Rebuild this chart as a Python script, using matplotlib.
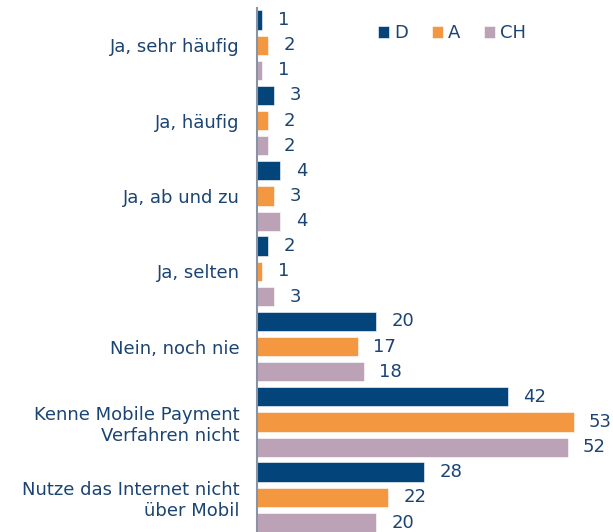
import numpy as np
import matplotlib.pyplot as plt

categories = ['Ja, sehr häufig', 'Ja, häufig', 'Ja, ab und zu', 'Ja, selten',
              'Nein, noch nie', 'Kenne Mobile Payment\nVerfahren nicht',
              'Nutze das Internet nicht\nüber Mobil']
series = ['D', 'A', 'CH']
d_vals = [1, 3, 4, 2, 20, 42, 28]
a_vals = [2, 2, 3, 1, 17, 53, 22]
ch_vals = [1, 2, 4, 3, 18, 52, 20]

colors = ['#03457a', '#f39840', '#bca2b7']
txt = '#1b4472'
fs = 13

fig = plt.figure(figsize=(6.13, 5.32), dpi=100)
ax = fig.add_axes([256.5 / 613, 0, 1 - 256.5 / 613, 1 - 7.5 / 532])

y = np.arange(len(categories))
off = 0.335
for i, (name, vals) in enumerate(zip(series, [d_vals, a_vals, ch_vals])):
  pos = y + (i - 1) * off
  bars = ax.barh(pos, vals, height=0.255, color=colors[i], label=name,
                 edgecolor='white', linewidth=0.4)
  for b, v in zip(bars, vals):
    ax.annotate(str(v), (v, b.get_y() + b.get_height() / 2),
                xytext=(11, 0), textcoords='offset points',
                va='center', ha='left', fontsize=fs, color=txt,
                annotation_clip=False)

ax.set_ylim(6.46, -0.5)
ax.set_xlim(0, 59.6)
ax.set_yticks(y)
ax.set_yticklabels(categories, fontsize=fs, color=txt, ha='right')
ax.tick_params(axis='y', length=0, pad=12)
ax.set_xticks([])
for s in ['top', 'right', 'bottom']:
  ax.spines[s].set_visible(False)
ax.spines['left'].set_color('#8a93a3')
ax.spines['left'].set_linewidth(1.5)

leg = ax.legend(loc='upper left', bbox_to_anchor=(0.321, 0.982), ncol=3,
                frameon=False, fontsize=fs, handlelength=0.6,
                handleheight=0.6, handletextpad=0.3, columnspacing=1.3,
                borderaxespad=0)
for t in leg.get_texts():
  t.set_color(txt)

fig.savefig('out.png', dpi=100)
